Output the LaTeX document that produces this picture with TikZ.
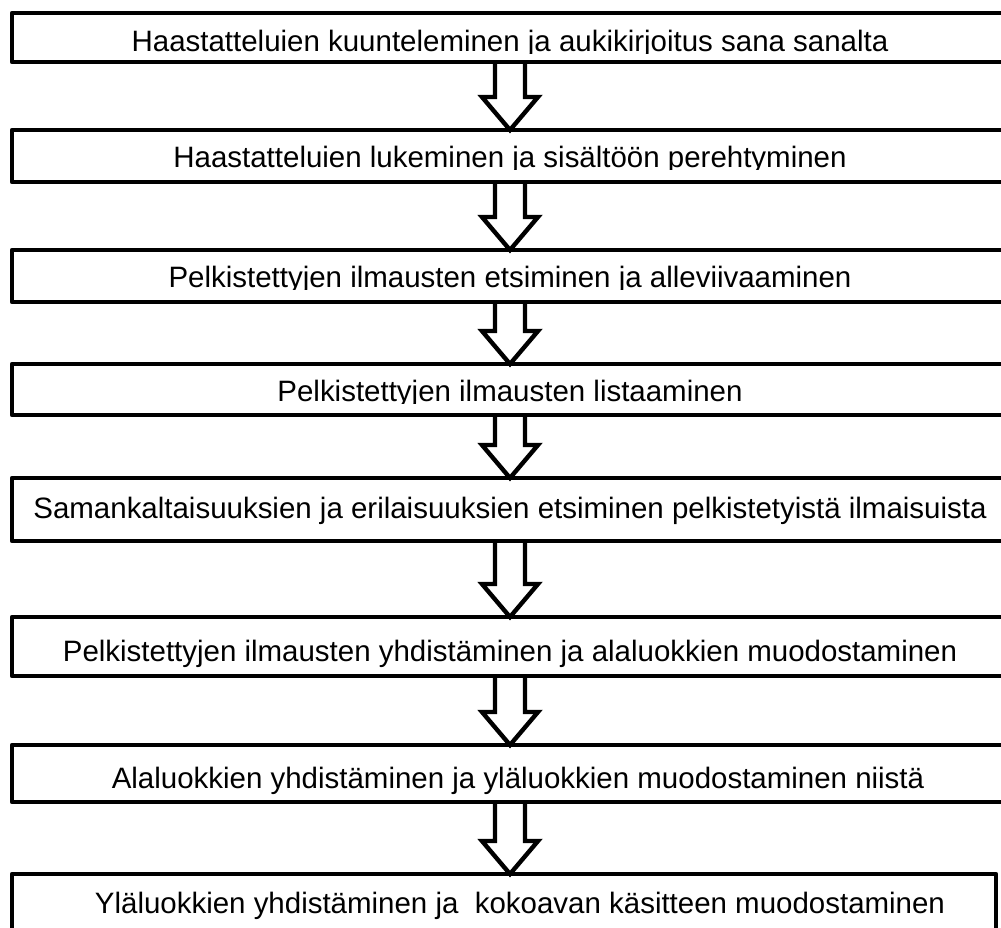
\documentclass[tikz,border=0pt]{standalone}
\usepackage{fontspec}
\setmainfont{Liberation Sans}
\usetikzlibrary{calc,fit}

\begin{document}
\begin{tikzpicture}[x = 0.75pt, y = -0.75pt, line width = 3.6pt,
    stepbox/.style = {draw, rectangle, inner sep = 0pt, outer sep = 0pt, line join = round},
    steptext/.style = {anchor = base, inner sep = 0pt, font = \fontsize{22.1pt}{26pt}\selectfont},
    blockarrow/.style = {line width = 3.3pt, miter limit = 10}]
\useasboundingbox (0,0) rectangle (1001,928);
\clip (0,0) rectangle (1001,928);
\coordinate (ax) at (510,0);
% boxes
\node[stepbox, fit = {(12,13) (1030,62)}] (b1) {};
\node[stepbox, fit = {(12,130) (1030,182)}] (b2) {};
\node[stepbox, fit = {(12,250) (1030,302)}] (b3) {};
\node[stepbox, fit = {(12,364) (1030,415)}] (b4) {};
\node[stepbox, fit = {(12,478) (1030,541)}] (b5) {};
\node[stepbox, fit = {(12,617) (1030,676)}] (b6) {};
\node[stepbox, fit = {(12,745) (1030,802)}] (b7) {};
\node[stepbox, fit = {(12,874) (996,960)}] (b8) {};
% texts, the first four cut off at the bottom
\foreach \n/\ytop/\txt in {1/14/{Haastatteluien kuunteleminen ja aukikirjoitus sana sanalta},
    2/130/{Haastatteluien lukeminen ja sisältöön perehtyminen},
    3/250/{Pelkistettyjen ilmausten etsiminen ja alleviivaaminen},
    4/364/{Pelkistettyjen ilmausten listaaminen}}{
  \begin{scope}
    \clip (14,\ytop) rectangle (1001,\ytop+39.5);
    \node[steptext] (t\n) at (510,\ytop+37.5) {\txt};
  \end{scope}
}
\node[steptext] (t5) at (510,518) {Samankaltaisuuksien ja erilaisuuksien etsiminen pelkistetyistä ilmaisuista};
\node[steptext] (t6) at (510,661) {Pelkistettyjen ilmausten yhdistäminen ja alaluokkien muodostaminen};
\node[steptext] (t7) at (518,788) {Alaluokkien yhdistäminen ja yläluokkien muodostaminen niistä};
\node[steptext] (t8) at (520,913) {Yläluokkien yhdistäminen ja~ kokoavan käsitteen muodostaminen};
% arrows
\foreach \a/\b in {b1/b2, b2/b3, b3/b4, b4/b5, b5/b6, b6/b7, b7/b8}
  \draw[blockarrow] ($(\a.south -| ax)+(-15,0)$) -- ($(\b.north -| ax)+(-15,-33)$) -- ++(-13,0)
    -- (\b.north -| ax) -- ($(\b.north -| ax)+(28,-33)$) -- ++(-13,0) -- ($(\a.south -| ax)+(15,0)$);
\end{tikzpicture}
\end{document}
